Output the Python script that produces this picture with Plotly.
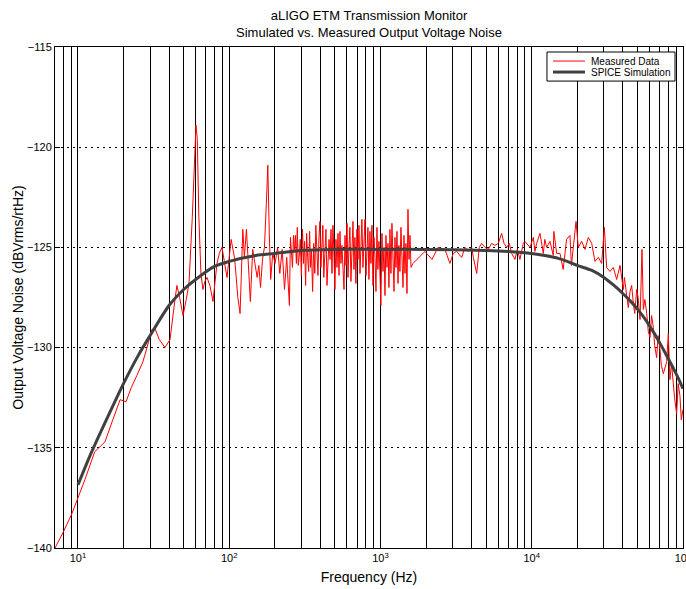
import plotly.graph_objects as go

# ---------------- Measured data (frequency in Hz, noise in dBVrms/rtHz) ----------------
low_freq = [7.05, 8.0, 9.1, 10.0, 11.1, 12.9, 15.1, 17.0, 19.0, 20.8,
            22.5, 24.5, 26.9, 28.6, 30.8, 32.3, 34.5, 37.6, 40.6, 43.8,
            45.1, 47.0, 49.5, 52.0, 54.2, 57.0, 59.0, 60.3, 61.5, 63.0,
            65.0, 67.0, 69.0, 71.3, 74.5, 78.1, 83.0, 86.0, 89.6, 93.0,
            96.7, 103, 108.8, 114, 118, 123, 126, 130, 134, 138,
            143, 148.5, 153, 157, 161, 166, 171, 176, 180, 184,
            188, 194, 201, 209, 216, 224, 232, 240]
low_db = [-140.0, -139.2, -138.3, -137.5, -136.6, -135.2, -134.7, -133.6, -132.6, -132.7,
          -132.0, -131.4, -130.7, -130.0, -129.1, -129.05, -129.6, -130.0, -129.6, -127.6,
          -126.9, -127.5, -128.4, -127.6, -126.8, -123.5, -120.3, -118.9, -119.6, -123.5,
          -126.3, -127.1, -126.7, -126.5, -126.9, -127.7, -125.8, -125.3, -125.0, -125.8,
          -126.5, -124.6, -125.6, -127.5, -128.3, -124.1, -125.5, -124.1, -126.1, -127.7,
          -125.1, -126.0, -126.5, -125.9, -127.0, -125.6, -125.0, -122.8, -120.9, -124.3,
          -126.6, -125.3, -125.8, -125.0, -126.3, -125.1, -127.1, -125.5]

dense_freq = [250, 254, 258, 262, 266, 270, 274, 278, 282, 286,
              290, 295, 300, 305, 310, 315, 320, 325, 330, 335,
              340, 345, 350, 356, 362, 368, 374, 380, 386, 392,
              398, 404, 410, 416, 422, 429, 436, 443, 450, 457,
              464, 471, 478, 485, 492, 500, 508, 516, 524, 532,
              540, 548, 556, 565, 574, 583, 592, 601, 610, 619,
              628, 638, 648, 658, 668, 678, 688, 699, 710, 721,
              732, 743, 754, 766, 778, 790, 802, 814, 826, 839,
              852, 865, 878, 892, 906, 920, 934, 948, 962, 977,
              992, 1007, 1023, 1039, 1055, 1071, 1087, 1104, 1121, 1138,
              1155, 1173, 1191, 1210, 1229, 1247, 1266, 1286, 1306, 1325,
              1345, 1366, 1387, 1409, 1430, 1452, 1474, 1497, 1520, 1544,
              1568, 1592]
dense_db = [-127.9, -124.5, -125.6, -126.0, -124.4, -125.2, -124.4, -125.8, -124.0, -125.9,
            -125.5, -124.6, -126.4, -124.1, -125.8, -124.7, -126.9, -124.3, -125.5, -126.2,
            -124.2, -126.0, -125.2, -127.2, -124.8, -126.3, -123.9, -125.6, -126.4, -124.5,
            -123.7, -126.0, -124.9, -123.9, -126.5, -125.0, -124.1, -126.9, -125.3, -124.6,
            -125.6, -124.1, -126.3, -123.9, -125.2, -127.1, -124.6, -126.0, -124.3, -126.4,
            -124.2, -125.8, -124.9, -126.2, -127.1, -124.4, -125.9, -123.8, -126.5, -125.0,
            -124.0, -126.7, -125.3, -123.7, -126.1, -124.5, -126.8, -124.1, -125.6, -123.9,
            -126.3, -124.4, -123.6, -126.0, -124.8, -123.6, -126.4, -125.0, -124.0, -126.6,
            -124.2, -125.8, -123.9, -126.9, -124.5, -125.5, -127.2, -124.0, -126.1, -124.7,
            -126.5, -127.9, -124.3, -126.2, -125.0, -127.4, -124.4, -126.0, -124.8, -127.0,
            -124.1, -126.3, -123.8, -125.9, -127.2, -124.5, -126.0, -124.2, -126.8, -124.9,
            -126.2, -124.0, -125.8, -127.0, -124.4, -126.3, -124.8, -127.3, -123.1, -125.6,
            -124.4, -126.0]

high_freq = [1641, 1968, 2190, 2400, 2668, 2879, 3029, 3189, 3441, 3622,
             3811, 4010, 4112, 4328, 4500, 4666, 4910, 5163, 5433, 5714,
             6013, 6325, 6561, 6829, 7109, 7368, 7750, 8030, 8360, 8792,
             9020, 9260, 9740, 10250, 10500, 10780, 11340, 11930, 12200, 12550,
             13200, 13880, 14000, 14620, 15380, 16140, 16500, 17000, 17900, 18300,
             18840, 19200, 19630, 20330, 21390, 22500, 23680, 24920, 26210, 27580,
             29020, 30210, 31290, 32920, 34640, 36450, 38350, 40350, 41000, 42460,
             43500, 44670, 45800, 47000, 48000, 49460, 50500, 52030, 53600, 54700,
             56000, 57600, 59000, 60600, 62000, 63700, 65000, 67000, 68500, 70500,
             72000, 74200, 76000, 78100, 80000, 82000, 84000, 86300, 88000, 90800,
             93000, 95500, 97500, 100000]
high_db = [-125.8, -125.2, -125.6, -125.0, -125.1, -125.8, -125.3, -125.2, -125.5, -125.0,
           -125.2, -125.0, -125.5, -126.3, -125.0, -124.8, -125.0, -125.1, -124.8, -124.9,
           -124.8, -124.3, -124.8, -125.0, -124.8, -125.3, -125.6, -125.1, -125.6, -124.8,
           -124.7, -124.8, -125.0, -124.5, -125.2, -124.8, -124.3, -125.3, -124.6, -125.0,
           -124.7, -125.4, -124.2, -125.3, -125.3, -126.1, -125.5, -124.6, -124.4, -125.9,
           -125.0, -124.3, -123.7, -125.0, -124.7, -125.1, -124.5, -124.8, -125.7, -125.5,
           -125.8, -124.0, -126.0, -126.2, -126.0, -126.6, -125.9, -127.1, -126.5, -127.4,
           -128.0, -127.2, -126.9, -127.8, -128.3, -127.1, -127.5, -128.6, -125.1, -128.1,
           -127.6, -128.3, -129.2, -129.5, -128.4, -129.0, -129.9, -130.5, -129.4, -130.1,
           -130.9, -131.3, -131.0, -130.7, -129.3, -131.6, -130.8, -132.0, -132.5, -133.3,
           -131.8, -132.4, -133.6, -133.1]

# ---------------- SPICE simulation ----------------
sim_freq = [10, 12, 15, 20, 25, 30, 40, 50, 60, 80,
            100, 150, 200, 300, 500, 1000, 2000, 5000, 7000, 10000,
            12500, 15000, 17500, 20000, 25000, 30000, 35000, 40000, 45000, 50000,
            55000, 60000, 65000, 70000, 75000, 80000, 85000, 90000, 95000, 100000]
sim_db = [-136.85, -135.4, -133.8, -131.8, -130.4, -129.4, -127.9, -127.1, -126.6, -125.95,
          -125.7, -125.4, -125.3, -125.15, -125.1, -125.1, -125.1, -125.15, -125.2, -125.3,
          -125.42, -125.55, -125.72, -125.9, -126.15, -126.5, -126.9, -127.3, -127.68, -128.08,
          -128.48, -128.9, -129.32, -129.75, -130.16, -130.56, -130.93, -131.3, -131.67, -132.05]

x_decades = [10, 100, 1000, 10000, 100000]
x_decade_labels = ["10<sup>1</sup>", "10<sup>2</sup>", "10<sup>3</sup>", "10<sup>4</sup>", "10<sup>5</sup>"]
y_ticks = [-140, -135, -130, -125, -120, -115]
series_names = ["Measured Data", "SPICE Simulation"]

meas_freq = low_freq + dense_freq + high_freq
meas_db = low_db + dense_db + high_db

# minor grid positions at every 2..9 x 10^n (and 7..9 below 10) inside the axis range
minor_vals = [m * 10 ** e for e in range(0, 5) for m in range(2, 10)
              if 7 <= m * 10 ** e <= 100000]

FONT = "Liberation Sans, Arial, Helvetica, sans-serif"
RED = "#ff0000"
GRAY = "#404040"

fig = go.Figure()
fig.add_trace(go.Scatter(x=meas_freq, y=meas_db, mode="lines", name=series_names[0],
                         line=dict(color=RED, width=1), showlegend=False))
fig.add_trace(go.Scatter(x=sim_freq, y=sim_db, mode="lines", name=series_names[1],
                         line=dict(color=GRAY, width=3, shape="spline", smoothing=0.8),
                         showlegend=False))

fig.update_layout(
    width=686, height=589, autosize=False,
    margin=dict(l=55, r=3, t=47, b=41),
    paper_bgcolor="white", plot_bgcolor="white",
    font=dict(family=FONT, color="black", size=11),
    title=dict(text="aLIGO ETM Transmission Monitor<br>Simulated vs. Measured Output Voltage Noise",
               x=0.5, xref="paper", xanchor="center", y=0.9652, yanchor="top",
               font=dict(size=13, family=FONT, color="black")),
    showlegend=False,
)

# legend box drawn in paper coordinates (top-right corner of the axes)
lx0, lx1, ly0, ly1 = 0.7834, 0.9873, 0.932, 0.990
fig.add_shape(type="rect", xref="paper", yref="paper", x0=lx0, x1=lx1, y0=ly0, y1=ly1,
              line=dict(color="black", width=1), fillcolor="white", layer="above")
for yy, col, w, name in [(0.972, RED, 1, series_names[0]), (0.950, GRAY, 3, series_names[1])]:
    fig.add_shape(type="line", xref="paper", yref="paper", x0=0.7930, x1=0.8439, y0=yy, y1=yy,
                  line=dict(color=col, width=w), layer="above")
    fig.add_annotation(xref="paper", yref="paper", x=0.8500, y=yy, xanchor="left", yanchor="middle",
                       text=name, showarrow=False, font=dict(size=10, family=FONT, color="black"))

fig.update_xaxes(type="log", range=[0.8482, 5.0002], automargin=False,
                 tickmode="array", tickvals=x_decades, ticktext=x_decade_labels,
                 ticklabeloverflow="allow",
                 showgrid=True, gridcolor="black", gridwidth=1,
                 minor=dict(tickmode="array", tickvals=minor_vals, showgrid=True,
                            gridcolor="black", gridwidth=1, ticks=""),
                 showline=True, linecolor="black", linewidth=1, mirror=True,
                 ticks="", zeroline=False,
                 tickfont=dict(size=11),
                 title=dict(text="Frequency (Hz)", font=dict(size=14), standoff=8))
fig.update_yaxes(range=[-140, -115], tickmode="array", tickvals=y_ticks, automargin=False,
                 showgrid=True, gridcolor="black", gridwidth=1, griddash="2px,4px",
                 showline=True, linecolor="black", linewidth=1, mirror="ticks",
                 ticks="inside", ticklen=5, tickcolor="black", zeroline=False,
                 tickfont=dict(size=11),
                 title=dict(text="Output Voltage Noise (dBVrms/rtHz)", font=dict(size=14), standoff=0))

# remove the default 8px page margin and scrollbars so the figure fills the window exactly
page_fix = ("document.documentElement.style.margin='0';document.body.style.margin='0';"
            "document.documentElement.style.overflow='hidden';document.body.style.overflow='hidden';")
fig.write_html("out.html", post_script=page_fix, config={"displayModeBar": False})
